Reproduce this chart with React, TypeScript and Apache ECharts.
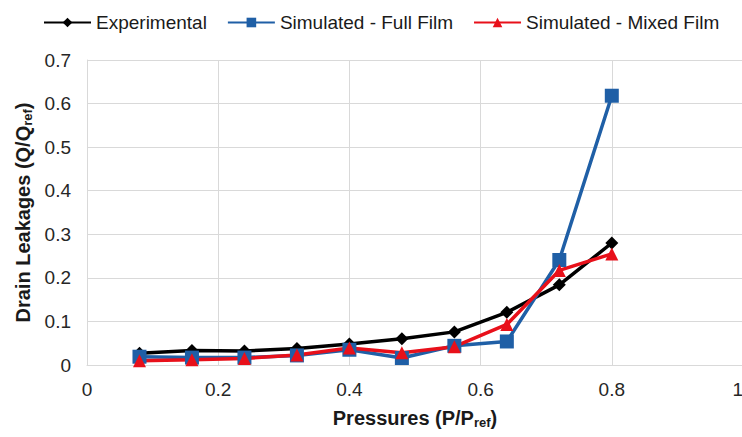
import React, { useEffect, useRef } from "react";
import * as echarts from "echarts";

const pressures = [0.08, 0.16, 0.24, 0.32, 0.4, 0.48, 0.56, 0.64, 0.72, 0.8];
const experimental = [0.027, 0.033, 0.032, 0.038, 0.048, 0.06, 0.076, 0.121, 0.184, 0.28];
const fullFilm = [0.019, 0.017, 0.017, 0.022, 0.035, 0.016, 0.044, 0.054, 0.241, 0.618];
const mixedFilm = [0.01, 0.012, 0.015, 0.023, 0.039, 0.028, 0.042, 0.093, 0.217, 0.255];
const seriesNames = ["Experimental", "Simulated - Full Film", "Simulated - Mixed Film"];

const FONT = "'Liberation Sans', Arial, sans-serif";

export default function App() {
  const ref = useRef<HTMLDivElement>(null);
  useEffect(() => {
    if (!ref.current) return;
    const chart = echarts.init(ref.current, null, { renderer: "svg" });
    const pair = (ys: number[]) => pressures.map((x, i) => [x, ys[i]]);
    chart.setOption({
      animation: false,
      backgroundColor: "#ffffff",
      textStyle: { fontFamily: FONT },
      legend: {
        top: 8,
        left: 38,
        itemWidth: 47,
        itemHeight: 12,
        itemGap: 20,
        data: seriesNames,
        textStyle: { fontFamily: FONT, fontSize: 19, color: "#1a1a1a" },
      },
      grid: { left: 87, right: -1, top: 60, bottom: 72, outerBoundsMode: "none", containLabel: false },
      xAxis: {
        type: "value",
        min: 0,
        max: 1,
        interval: 0.2,
        name: "Pressures (P/P{sub|ref})",
        nameLocation: "middle",
        nameGap: 42,
        nameTextStyle: {
          fontFamily: FONT,
          fontSize: 20,
          fontWeight: "bold",
          color: "#1a1a1a",
          rich: {
            sub: { fontFamily: FONT, fontSize: 13, fontWeight: "bold", color: "#1a1a1a", padding: [9, 0, 0, 0] },
          },
        },
        axisLine: { show: true, lineStyle: { color: "#d9d9d9", width: 1 } },
        axisTick: { show: false },
        axisLabel: { margin: 15, fontFamily: FONT, fontSize: 19, color: "#262626", alignMaxLabel: "right" },
        splitLine: { show: true, lineStyle: { color: "#d9d9d9", width: 1 } },
      },
      yAxis: {
        type: "value",
        min: 0,
        max: 0.7,
        interval: 0.1,
        name: "Drain Leakages (Q/Q{sub|ref})",
        nameLocation: "middle",
        nameGap: 48,
        nameRotate: 90,
        nameTextStyle: {
          fontFamily: FONT,
          fontSize: 20,
          fontWeight: "bold",
          color: "#1a1a1a",
          rich: {
            sub: { fontFamily: FONT, fontSize: 13, fontWeight: "bold", color: "#1a1a1a", padding: [9, 0, 0, 0] },
          },
        },
        axisLine: { show: true, lineStyle: { color: "#d9d9d9", width: 1 } },
        axisTick: { show: false },
        axisLabel: { margin: 16, fontFamily: FONT, fontSize: 19, color: "#262626" },
        splitLine: { show: true, lineStyle: { color: "#d9d9d9", width: 1 } },
      },
      series: [
        {
          name: seriesNames[0],
          type: "line",
          data: pair(experimental),
          symbol: "diamond",
          symbolSize: 13,
          color: "#000000",
          lineStyle: { color: "#000000", width: 3.5 },
          itemStyle: { color: "#000000" },
        },
        {
          name: seriesNames[1],
          type: "line",
          data: pair(fullFilm),
          symbol: "rect",
          symbolSize: 14,
          color: "#1f5fa6",
          lineStyle: { color: "#1f5fa6", width: 3.5 },
          itemStyle: { color: "#1f5fa6" },
        },
        {
          name: seriesNames[2],
          type: "line",
          data: pair(mixedFilm),
          symbol: "triangle",
          symbolSize: 13,
          color: "#e8101a",
          lineStyle: { color: "#e8101a", width: 3.5 },
          itemStyle: { color: "#e8101a" },
        },
      ],
    });
    return () => chart.dispose();
  }, []);
  return (
    <div
      ref={ref}
      style={{ position: "fixed", left: 0, top: 0, width: 742, height: 437, background: "#fff" }}
    />
  );
}
